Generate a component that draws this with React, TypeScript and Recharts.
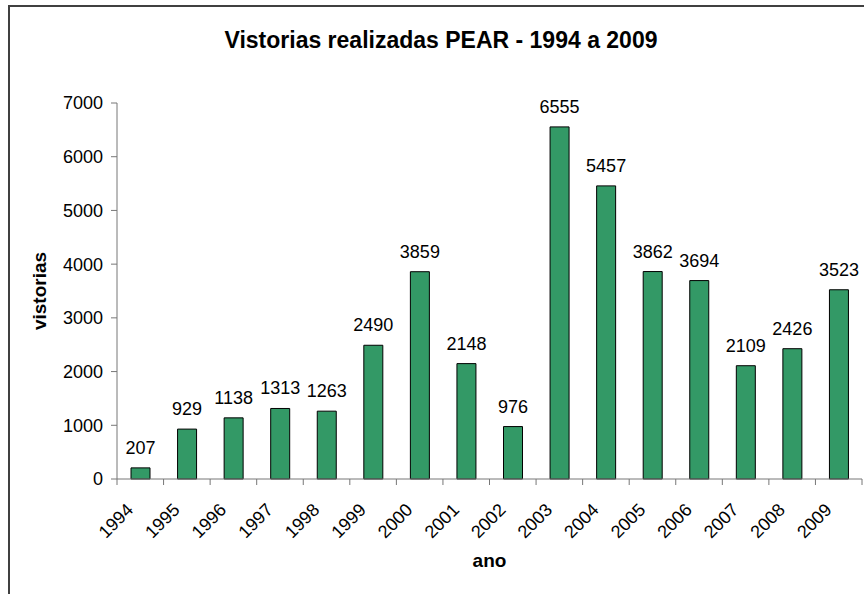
import { BarChart, Bar, XAxis, YAxis, LabelList } from 'recharts';

const years = [
  '1994', '1995', '1996', '1997', '1998', '1999', '2000', '2001',
  '2002', '2003', '2004', '2005', '2006', '2007', '2008', '2009',
];
const vistorias = [
  207, 929, 1138, 1313, 1263, 2490, 3859, 2148,
  976, 6555, 5457, 3862, 3694, 2109, 2426, 3523,
];
const yTicks = [0, 1000, 2000, 3000, 4000, 5000, 6000, 7000];

const data = years.map((ano, i) => ({ ano, vistorias: vistorias[i] }));

const WIDTH = 864;
const HEIGHT = 594;
const AXIS_LEFT = 117;
const RIGHT_MARGIN = 2;
const TOP = 103;
const X_AXIS_HEIGHT = 115;
const AXIS_Y = HEIGHT - X_AXIS_HEIGHT;
const BAND = (WIDTH - AXIS_LEFT - RIGHT_MARGIN) / years.length;
const AXIS_COLOR = '#777';
const FONT = '"Liberation Sans", Arial, sans-serif';

function YearTick(props: any) {
  const { x, payload } = props;
  const index = props.index ?? payload.index ?? 0;
  const last = index === years.length - 1;
  return (
    <g>
      <line x1={x - BAND / 2} x2={x - BAND / 2} y1={AXIS_Y} y2={AXIS_Y + 6} stroke={AXIS_COLOR} />
      {last && (
        <line x1={x + BAND / 2} x2={x + BAND / 2} y1={AXIS_Y} y2={AXIS_Y + 6} stroke={AXIS_COLOR} />
      )}
      <text
        x={x - 6}
        y={AXIS_Y + 32}
        textAnchor="end"
        fontSize={18}
        fill="#000"
        transform={`rotate(-45 ${x - 6} ${AXIS_Y + 32})`}
      >
        {payload.value}
      </text>
    </g>
  );
}

export default function App() {
  return (
    <div
      style={{
        position: 'absolute',
        left: 0,
        top: 0,
        width: WIDTH,
        height: HEIGHT,
        overflow: 'hidden',
        background: '#fff',
        fontFamily: FONT,
      }}
    >
      <div
        style={{
          position: 'absolute',
          left: 8,
          top: 5,
          width: 1000,
          height: 1000,
          borderTop: '2px solid #404040',
          borderLeft: '2px solid #404040',
        }}
      />
      <div
        style={{
          position: 'absolute',
          left: 0,
          top: 27,
          width: 882,
          textAlign: 'center',
          fontSize: 23,
          fontWeight: 'bold',
          lineHeight: '26px',
        }}
      >
        Vistorias realizadas PEAR - 1994 a 2009
      </div>
      <div
        style={{
          position: 'absolute',
          left: AXIS_LEFT,
          top: 550,
          width: WIDTH - AXIS_LEFT - RIGHT_MARGIN,
          textAlign: 'center',
          fontSize: 19,
          fontWeight: 'bold',
          lineHeight: '22px',
        }}
      >
        ano
      </div>
      <div
        style={{
          position: 'absolute',
          left: 40 - 60,
          top: 291 - 11,
          width: 120,
          textAlign: 'center',
          fontSize: 19,
          fontWeight: 'bold',
          lineHeight: '22px',
          transform: 'rotate(-90deg)',
        }}
      >
        vistorias
      </div>
      <div style={{ position: 'absolute', left: 0, top: 0 }}>
        <BarChart
          width={WIDTH}
          height={HEIGHT}
          data={data}
          margin={{ top: TOP, right: RIGHT_MARGIN, bottom: 0, left: 0 }}
          style={{ fontFamily: FONT }}
        >
          <XAxis
            dataKey="ano"
            height={X_AXIS_HEIGHT}
            interval={0}
            tickLine={false}
            axisLine={{ stroke: AXIS_COLOR }}
            tick={YearTick}
          />
          <YAxis
            width={AXIS_LEFT}
            domain={[0, 7000]}
            ticks={yTicks}
            interval={0}
            tickSize={6}
            tickMargin={8}
            axisLine={{ stroke: AXIS_COLOR }}
            tickLine={{ stroke: AXIS_COLOR }}
            tick={{ fontSize: 18, fill: '#000' }}
          />
          <Bar
            dataKey="vistorias"
            fill="#339966"
            stroke="#000"
            strokeWidth={1}
            barSize={19}
            isAnimationActive={false}
          >
            <LabelList dataKey="vistorias" position="top" offset={14} fontSize={18} fill="#000" />
          </Bar>
        </BarChart>
      </div>
    </div>
  );
}
